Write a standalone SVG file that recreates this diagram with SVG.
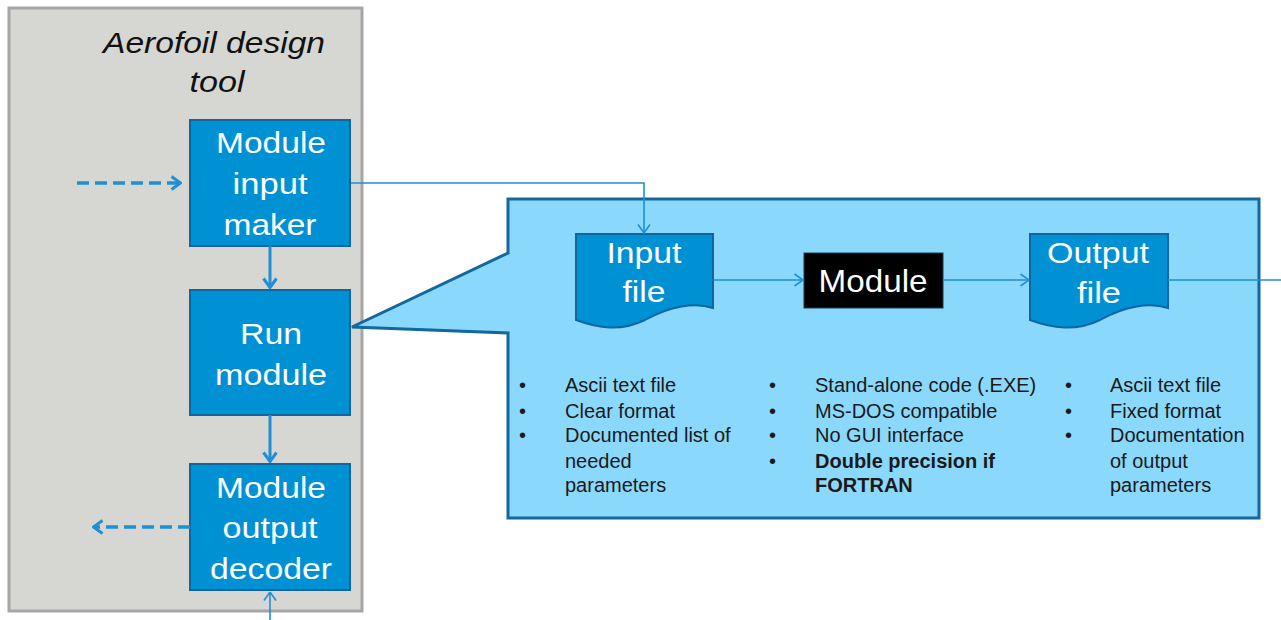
<svg xmlns="http://www.w3.org/2000/svg" width="1281" height="620" viewBox="0 0 1281 620">
<style>
.box{fill:#0091d5;stroke:#10679f;stroke-width:2}
.lbl{font-family:"Liberation Sans",Arial,sans-serif;fill:#ffffff;text-anchor:middle}
.blt{font-family:"Liberation Sans",Arial,sans-serif;font-size:20px;fill:#1a1a1a}
.thin{fill:none;stroke:#1f8fd6;stroke-width:1.6}
.thick{fill:none;stroke:#1f8fd6;stroke-width:3}
.dash{fill:none;stroke:#1f8fd6;stroke-width:3.5;stroke-dasharray:12 6}
</style>
<defs>
<marker id="ah" viewBox="0 0 10 14" refX="9.5" refY="7" markerWidth="10" markerHeight="14" markerUnits="userSpaceOnUse" orient="auto">
<path d="M1,1 L9.5,7 L1,13" fill="none" stroke="#1f8fd6" stroke-width="1.6"/>
</marker>
<marker id="ahk" viewBox="0 0 12 16" refX="11" refY="8" markerWidth="12" markerHeight="16" markerUnits="userSpaceOnUse" orient="auto">
<path d="M1.5,1.5 L10.5,8 L1.5,14.5" fill="none" stroke="#1f8fd6" stroke-width="3"/>
</marker>
</defs>
<rect width="1281" height="620" fill="#ffffff"/>

<g id="tool">
<rect x="9" y="8" width="353" height="603" fill="#d6d6d2" stroke="#a6a6a6" stroke-width="3"/>
<text x="214" y="53" font-family="Liberation Sans,Arial,sans-serif" font-style="italic" font-size="29" fill="#111" text-anchor="middle" textLength="222" lengthAdjust="spacingAndGlyphs">Aerofoil design</text>
<text x="217" y="92" font-family="Liberation Sans,Arial,sans-serif" font-style="italic" font-size="29" fill="#111" text-anchor="middle" textLength="55" lengthAdjust="spacingAndGlyphs">tool</text>
</g>

<g id="callout">
<path d="M508,199 H1259 V518 H508 V333 L352,327 L508,253 Z" fill="#8ad8fc" stroke="#15679c" stroke-width="3" stroke-linejoin="miter"/>
</g>

<g id="input-maker">
<rect class="box" x="190" y="120" width="160" height="126"/>
<text class="lbl" x="271" y="153" font-size="29" textLength="110" lengthAdjust="spacingAndGlyphs">Module</text>
<text class="lbl" x="270" y="194" font-size="29" textLength="75" lengthAdjust="spacingAndGlyphs">input</text>
<text class="lbl" x="270" y="235" font-size="29" textLength="93" lengthAdjust="spacingAndGlyphs">maker</text>
</g>

<g id="run-module">
<rect class="box" x="190" y="290" width="160" height="125"/>
<text class="lbl" x="271" y="344" font-size="29" textLength="62" lengthAdjust="spacingAndGlyphs">Run</text>
<text class="lbl" x="271" y="385" font-size="29" textLength="112" lengthAdjust="spacingAndGlyphs">module</text>
</g>

<g id="output-decoder">
<rect class="box" x="190" y="464" width="160" height="126"/>
<text class="lbl" x="271" y="498" font-size="29" textLength="110" lengthAdjust="spacingAndGlyphs">Module</text>
<text class="lbl" x="270" y="538" font-size="29" textLength="95" lengthAdjust="spacingAndGlyphs">output</text>
<text class="lbl" x="271" y="579" font-size="29" textLength="122" lengthAdjust="spacingAndGlyphs">decoder</text>
</g>

<g id="input-file">
<path class="box" d="M576,234 H713 V308 C695,302 670,306 645,320 C620,332 598,328 576,320 Z"/>
<text class="lbl" x="644" y="263" font-size="30" textLength="75" lengthAdjust="spacingAndGlyphs">Input</text>
<text class="lbl" x="644" y="302" font-size="30" textLength="43" lengthAdjust="spacingAndGlyphs">file</text>
</g>

<g id="module">
<rect x="804" y="253" width="139" height="55" fill="#000000" stroke="#1a3a50" stroke-width="1"/>
<text class="lbl" x="873" y="292" font-size="32" textLength="109" lengthAdjust="spacingAndGlyphs">Module</text>
</g>

<g id="output-file">
<path class="box" d="M1030,234 H1168 V308 C1150,302 1125,306 1100,320 C1075,332 1052,328 1030,320 Z"/>
<text class="lbl" x="1098" y="263" font-size="30" textLength="102" lengthAdjust="spacingAndGlyphs">Output</text>
<text class="lbl" x="1099" y="303" font-size="30" textLength="44" lengthAdjust="spacingAndGlyphs">file</text>
</g>

<g id="input-notes" class="blt">
<text x="519" y="392">•</text><text x="565" y="392">Ascii text file</text>
<text x="519" y="418">•</text><text x="565" y="418">Clear format</text>
<text x="519" y="442">•</text><text x="565" y="442">Documented list of</text>
<text x="565" y="468">needed</text>
<text x="565" y="492">parameters</text>
</g>

<g id="module-notes" class="blt">
<text x="769" y="392">•</text><text x="815" y="392">Stand-alone code (.EXE)</text>
<text x="769" y="418">•</text><text x="815" y="418">MS-DOS compatible</text>
<text x="769" y="442">•</text><text x="815" y="442">No GUI interface</text>
<text x="769" y="468">•</text><text x="815" y="468" font-weight="bold">Double precision if</text>
<text x="815" y="492" font-weight="bold">FORTRAN</text>
</g>

<g id="output-notes" class="blt">
<text x="1065" y="392">•</text><text x="1110" y="392">Ascii text file</text>
<text x="1065" y="418">•</text><text x="1110" y="418">Fixed format</text>
<text x="1065" y="442">•</text><text x="1110" y="442">Documentation</text>
<text x="1110" y="468">of output</text>
<text x="1110" y="492">parameters</text>
</g>

<g id="connectors">
<path class="dash" d="M77,183 H181" marker-end="url(#ahk)"/>
<path class="dash" d="M190,527 H93" marker-end="url(#ahk)"/>
<path class="thick" d="M270,246 V288" marker-end="url(#ahk)"/>
<path class="thick" d="M270,415 V462" marker-end="url(#ahk)"/>
<path class="thin" d="M270,620 V592" marker-end="url(#ah)"/>
<path class="thin" d="M351,183 H644 V233" marker-end="url(#ah)"/>
<path class="thin" d="M713,280 H803" marker-end="url(#ah)"/>
<path class="thin" d="M943,280 H1029" marker-end="url(#ah)"/>
<path class="thin" d="M1168,280 H1281"/>
</g>
</svg>
